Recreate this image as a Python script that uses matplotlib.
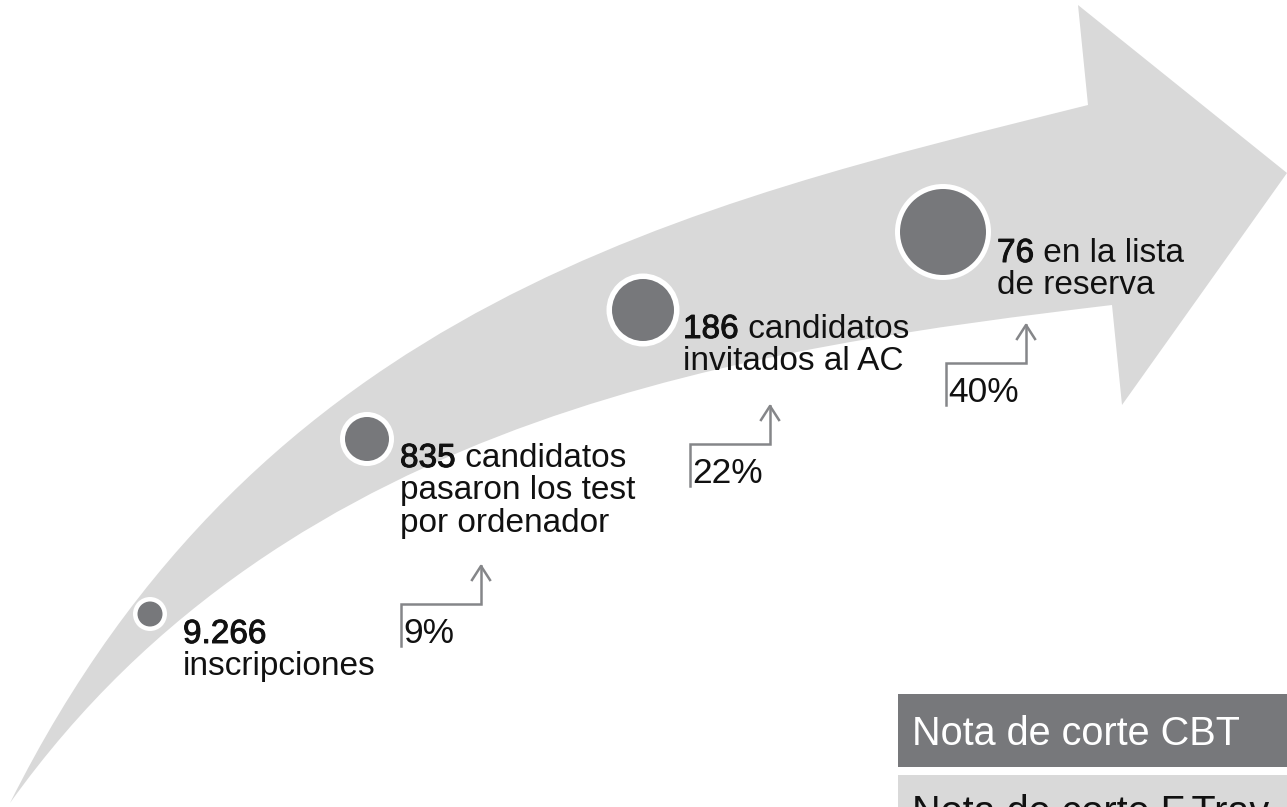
import matplotlib
matplotlib.use('Agg')
import matplotlib.pyplot as plt
import matplotlib.patheffects as pe
from matplotlib.path import Path
from matplotlib.patches import PathPatch, Circle, Rectangle

# stage data
counts = ['9.266', '835', '186', '76']
first_rest = ['', ' candidatos', ' candidatos', ' en la lista']
more_lines = [['inscripciones'],
              ['pasaron los test', 'por ordenador'],
              ['invitados al AC'],
              ['de reserva']]
pcts = ['9%', '22%', '40%']
cut_labels = ['Nota de corte CBT', 'Nota de corte F.Trav.']

# layout (pixel coords, y downwards)
stage_xy = [(150, 614), (367, 439), (643, 310), (943, 232)]
stage_r = [17, 27, 36.5, 48]
ring = [4.5, 5, 5.5, 5]
label_xy = [(183, 643), (400, 467), (683, 338), (997, 262)]
pct_xy = [(403, 643), (692, 483), (948, 402)]
line_gap = 32.5

BAND = '#d9d9d9'
DARK = '#77787b'
LINE = '#858689'
INK = '#111111'
FONT = 'Liberation Sans'
FS = 24

fig = plt.figure(figsize=(12.87, 8.07), dpi=100)
ax = fig.add_axes([0, 0, 1, 1])
ax.set_xlim(0, 1287)
ax.set_ylim(807, 0)
ax.axis('off')

# big curved arrow
verts = [(10, 803), (260, 303), (688, 205), (1088, 105),
         (1078, 5), (1287, 173), (1122, 405), (1112, 305),
         (762, 347), (290, 411), (10, 803), (10, 803)]
codes = [Path.MOVETO, Path.CURVE4, Path.CURVE4, Path.CURVE4,
         Path.LINETO, Path.LINETO, Path.LINETO, Path.LINETO,
         Path.CURVE4, Path.CURVE4, Path.CURVE4, Path.CLOSEPOLY]
ax.add_patch(PathPatch(Path(verts, codes), fc=BAND, ec='none', zorder=1))

# stage circles
for (cx, cy), r, w in zip(stage_xy, stage_r, ring):
    ax.add_patch(Circle((cx, cy), r, fc='white', ec='none', zorder=2))
    ax.add_patch(Circle((cx, cy), r - w, fc=DARK, ec='none', zorder=3))

# labels
heavy = [pe.withStroke(linewidth=0.7, foreground=INK)]
for i, (x, y) in enumerate(label_xy):
    t = ax.text(x, y, counts[i], fontsize=FS, family=FONT, color=INK,
                va='baseline', ha='left', zorder=4, path_effects=heavy)
    if first_rest[i]:
        ax.annotate(first_rest[i], xy=(1, 0), xycoords=t, fontsize=FS,
                    family=FONT, color=INK, va='bottom', ha='left', zorder=4)
    for k, line in enumerate(more_lines[i]):
        ax.text(x, y + line_gap * (k + 1), line, fontsize=FS, family=FONT,
                color=INK, va='baseline', ha='left', zorder=4)

# percentage step arrows
for p, (x, y) in zip(pcts, pct_xy):
    ax.text(x, y, p, fontsize=25.5, family=FONT, color=INK,
            va='baseline', ha='left', zorder=4)
    lx, rx = x - 2, x + 78
    hy = y - 39
    ty = hy - 38
    ax.plot([lx, lx, rx, rx], [y + 3, hy, hy, ty], color=LINE, lw=1.8,
            solid_joinstyle='miter', zorder=4)
    ax.plot([rx - 9, rx, rx + 9], [ty + 14, ty, ty + 14], color=LINE, lw=1.8,
            zorder=4)

# cut-off boxes (the second one runs off the bottom edge, as in the source)
ax.add_patch(Rectangle((898, 694), 400, 73, fc=DARK, ec='none', zorder=2))
ax.add_patch(Rectangle((898, 775), 400, 40, fc=BAND, ec='none', zorder=2))
ax.text(912, 745, cut_labels[0], fontsize=28.5, family=FONT, color='white',
        va='baseline', ha='left', zorder=4)
ax.text(912, 824, cut_labels[1], fontsize=28.5, family=FONT, color=INK,
        va='baseline', ha='left', zorder=4)

fig.savefig('out.png', dpi=100)
